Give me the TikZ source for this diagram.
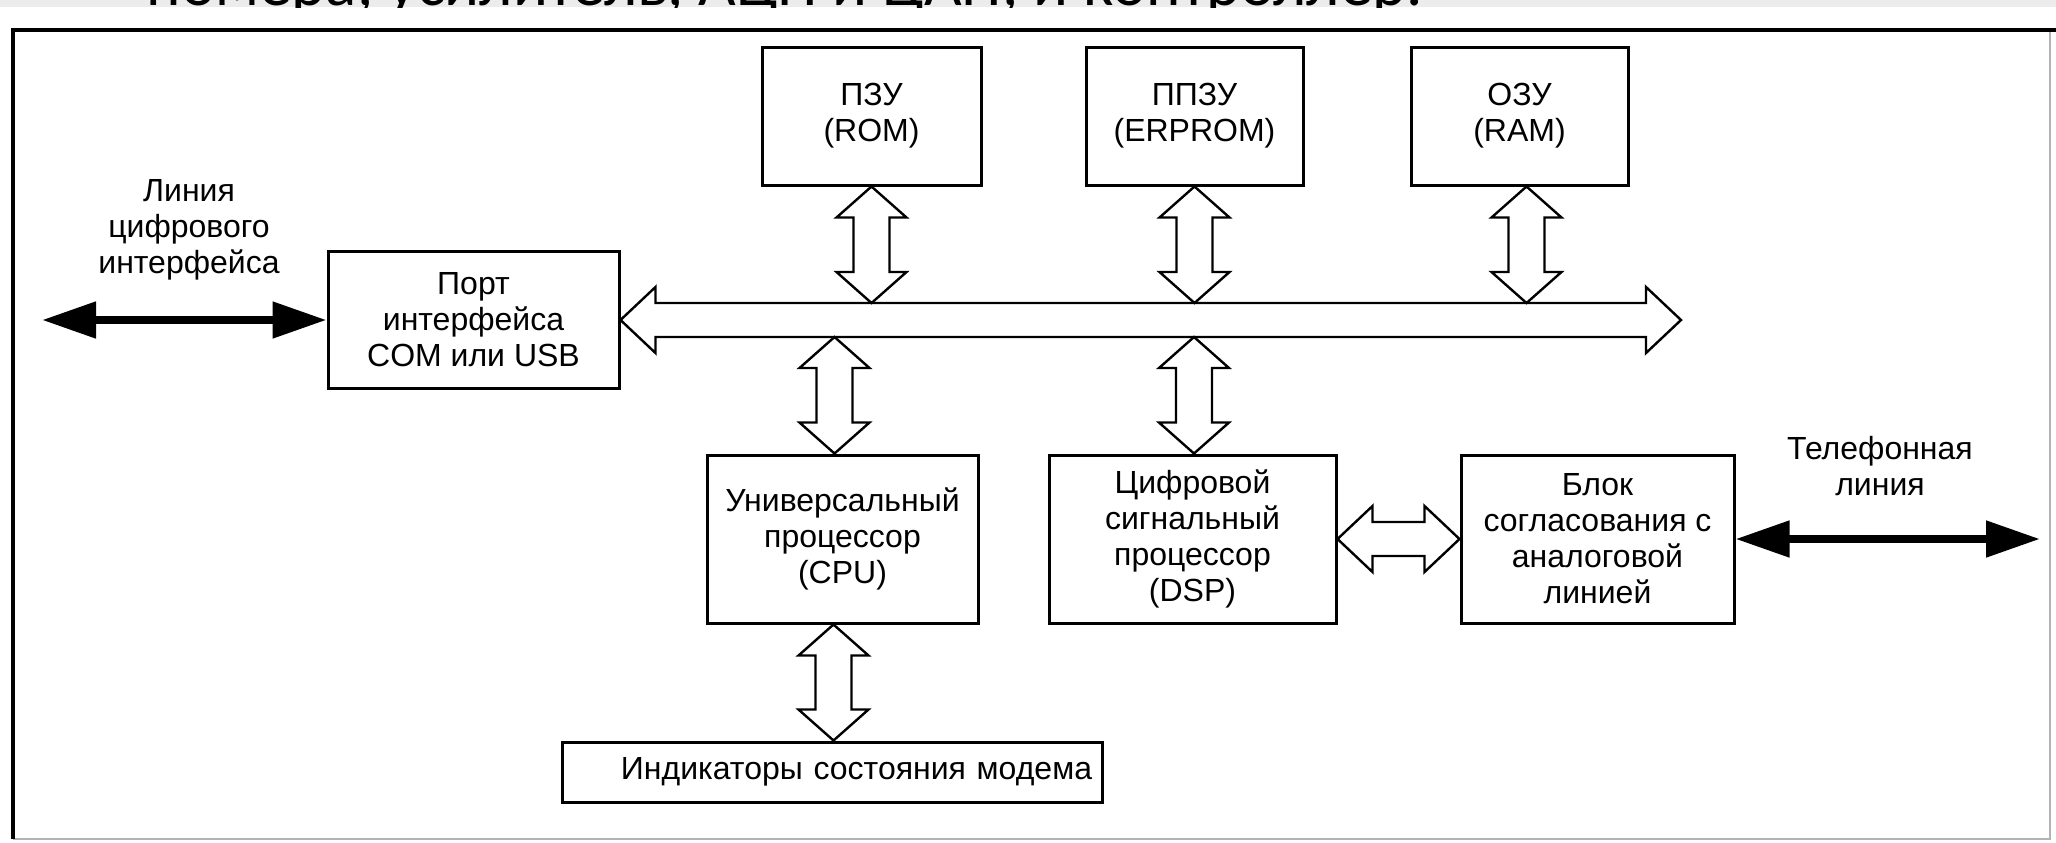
\documentclass[tikz,border=0pt]{standalone}
\usepackage{fontspec}
\setmainfont{Liberation Sans}
\newfontfamily\slidefont{Carlito}
\usetikzlibrary{arrows.meta,calc}
\tikzset{
  box/.style={draw, line width=1.5pt, inner sep=0pt, align=center, font=\fontsize{16}{18}\selectfont},
  lbl/.style={inner sep=0pt, align=center, font=\fontsize{16}{18}\selectfont},
  fat/.style={draw, line width=1.2pt, fill=white, line join=miter},
  solidarrow/.style={line width=4pt, {Triangle[length=27pt,width=17.5pt]}-{Triangle[length=27pt,width=17.5pt]}},
}
% vertical hollow double arrow: x from #1, top y from #2, bottom y from #3
\newcommand\vfat[3]{%
  \draw[fat] let \p1=(#1), \p2=(#2), \p3=(#3) in
    (\x1,\y2) -- (\x1+17.5pt,\y2-15.5pt) -- (\x1+9pt,\y2-15.5pt) -- (\x1+9pt,\y3+15.5pt)
    -- (\x1+17.5pt,\y3+15.5pt) -- (\x1,\y3) -- (\x1-17.5pt,\y3+15.5pt) -- (\x1-9pt,\y3+15.5pt)
    -- (\x1-9pt,\y2-15.5pt) -- (\x1-17.5pt,\y2-15.5pt) -- cycle;}
% horizontal hollow double arrow: y from #1, left x from #2, right x from #3
\newcommand\hfat[3]{%
  \draw[fat] let \p1=(#1), \p2=(#2), \p3=(#3) in
    (\x2,\y1) -- (\x2+17.5pt,\y1+16.5pt) -- (\x2+17.5pt,\y1+8.5pt) -- (\x3-17.5pt,\y1+8.5pt)
    -- (\x3-17.5pt,\y1+16.5pt) -- (\x3,\y1) -- (\x3-17.5pt,\y1-16.5pt) -- (\x3-17.5pt,\y1-8.5pt)
    -- (\x2+17.5pt,\y1-8.5pt) -- (\x2+17.5pt,\y1-16.5pt) -- cycle;}
\begin{document}
\begin{tikzpicture}[x=0.5pt,y=-0.5pt]
\path[use as bounding box, fill=white] (0,0) rectangle (2056,842);
% top band with clipped slide text
\fill[gray!15] (0,0) rectangle (2056,7);
\begin{scope}
  \clip (0,0) rectangle (2056,7);
  \node[anchor=base west, inner sep=0pt, font=\slidefont\fontsize{32.5}{34}\selectfont] (hdr) at (146,5) {номера, усилитель, АЦП и ЦАП, и контроллер.};
\end{scope}
% frame
\draw[gray!60, line width=1pt] (2050,30) -- (2050,839) -- (13,839);
\draw[line width=2pt] (13,839) -- (13,30) -- (2056,30);

% boxes
\node[box, minimum width=109.5pt, minimum height=69pt] (rom) at (871.5,116) {ПЗУ\\(ROM)};
\node[box, minimum width=108.5pt, minimum height=69pt] (eeprom) at (1194.5,116) {ППЗУ\\(ERPROM)};
\node[box, minimum width=108.5pt, minimum height=69pt] (ram) at (1519.5,116) {ОЗУ\\(RAM)};
\node[box, minimum width=145.5pt, minimum height=68.5pt] (port) at (473.5,320) {Порт\\интерфейса\\COM или USB};
\node[box, minimum width=135.5pt, minimum height=84pt] (cpu) at (842.5,539) {Универсальный\\процессор\\(CPU)};
\node[box, minimum width=143.5pt, minimum height=84pt] (dsp) at (1192.5,539) {Цифровой\\сигнальный\\процессор\\(DSP)};
\node[box, minimum width=136.5pt, minimum height=84pt] (blk) at (1597.5,539) {Блок\\согласования с\\аналоговой\\линией};
\node[box, minimum width=270pt, minimum height=30pt, text width=260pt, align=right] (ind) at (832,772) {Индикаторы состояния модема};

% labels
\node[lbl] (digital) at (189,230) {Линия\\цифрового\\интерфейса};
\node[lbl] (phone) at (1880,466) {Телефонная\\линия};

% bus
\coordinate (busR) at (1681,320);
\coordinate (busT) at (0,303);
\coordinate (busB) at (0,337);
\hfat{port.east}{port.east}{busR}

% vertical hollow arrows
\vfat{rom.south}{rom.south}{busT}
\vfat{eeprom.south}{eeprom.south}{busT}
\vfat{[xshift=3.5pt]ram.south}{ram.south}{busT}
\vfat{[xshift=-4pt]cpu.north}{busB}{cpu.north}
\vfat{[xshift=0.75pt]dsp.north}{busB}{dsp.north}
\vfat{[xshift=-4.5pt]cpu.south}{cpu.south}{ind.north}

% horizontal hollow arrow DSP <-> block
\hfat{dsp.east}{dsp.east}{blk.west}

% solid black arrows
\coordinate (digL) at (42,320);
\coordinate (telR) at (2040,539);
\draw[solidarrow] (digL) -- (port.west);
\draw[solidarrow] (blk.east) -- (telR);
\end{tikzpicture}
\end{document}
